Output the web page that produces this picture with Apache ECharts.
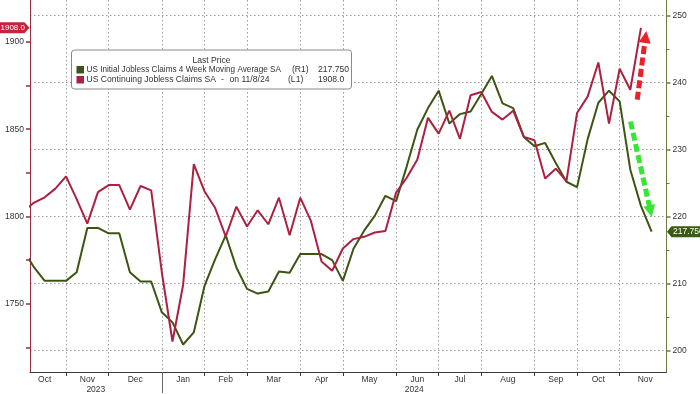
<!DOCTYPE html>
<html><head><meta charset="utf-8">
<script src="https://cdn.jsdelivr.net/npm/echarts@6/dist/echarts.min.js"></script>
<style>html,body{margin:0;padding:0;background:#fff}#c{width:700px;height:394px}</style>
</head><body><div id="c"></div>
<script>
// Weekly observation dates (Fridays)
const weeks = ['2023-09-29','2023-10-06','2023-10-13','2023-10-20','2023-10-27','2023-11-03','2023-11-10','2023-11-17','2023-11-24',
'2023-12-01','2023-12-08','2023-12-15','2023-12-22','2023-12-29','2024-01-05','2024-01-12','2024-01-19','2024-01-26',
'2024-02-02','2024-02-09','2024-02-16','2024-02-23','2024-03-01','2024-03-08','2024-03-15','2024-03-22','2024-03-29',
'2024-04-05','2024-04-12','2024-04-19','2024-04-26','2024-05-03','2024-05-10','2024-05-17','2024-05-24','2024-05-31',
'2024-06-07','2024-06-14','2024-06-21','2024-06-28','2024-07-05','2024-07-12','2024-07-19','2024-07-26',
'2024-08-02','2024-08-09','2024-08-16','2024-08-23','2024-08-30','2024-09-06','2024-09-13','2024-09-20','2024-09-27',
'2024-10-04','2024-10-11','2024-10-18','2024-10-25','2024-11-01','2024-11-08','2024-11-15'];

// US Initial Jobless Claims 4 Week Moving Average SA (R1), thousands
const initialClaims4wk = [215.0,212.4,210.4,210.4,210.4,211.7,218.3,218.3,217.5,217.5,211.7,210.3,210.3,205.7,204.2,200.9,202.7,209.6,
213.6,217.2,212.4,209.2,208.5,208.8,211.8,211.6,214.4,214.4,214.4,213.5,210.4,215.2,217.9,220.1,223.1,222.3,227.5,233.0,236.2,238.8,
233.9,235.3,235.7,238.3,241.0,236.9,236.2,231.9,230.5,231.0,228.0,225.2,224.4,231.6,237.0,238.8,237.2,227.0,221.6,217.75];

// US Continuing Jobless Claims SA (L1), thousands
const continuingClaims = [1803,1808,1811,1816,1823,1810,1796,1814,1818,1818,1804,1817.5,1815,1768,1728.5,1761,1830,1814.5,
1805,1788.6,1805.7,1794.3,1803.6,1795.6,1810.8,1789.3,1810.8,1797.5,1774.3,1769,1781.7,1787.1,1788.4,1790.9,1791.8,1813.7,1822.2,1832.7,
1856.5,1847.5,1860.6,1844.5,1869.4,1871.3,1859.9,1855.5,1860.6,1845.6,1843.7,1821.8,1827.4,1820.3,1859.3,1868.8,1888.2,1853.2,1884.6,1872.6,1908];

// Axis labels / ticks (x positions are week indexes)
const monthLabels = ['Oct','Nov','Dec','Jan','Feb','Mar','Apr','May','Jun','Jul','Aug','Sep','Oct','Nov'];
const monthLabelPos = [2,6,10.5,15,19,23.5,28,32.5,37,41,45.5,50,54,58.4];
const monthBoundaries = [4,8,13,17,21,26,30,35,39,43,48,52,56];
const yearLabels = ['2023','2024'];
const yearLabelPos = [6.8,36.7];
const yearBoundary = [13];
const leftLabels = [1750,1800,1850,1900];
const leftTicks = [1725,1750,1775,1800,1825,1850,1875,1900];
const rightLabels = [200,210,220,230,240,250];
const rightMinorTicks = [205,215,225,235,245];

const xMin = 0.616, xMax = 60.40;
const leftMin = 1711.04, leftMax = 1923.95;
const rightMin = 196.79, rightMax = 252.34;

const GREEN = '#3b5613', RED = '#ad2140';
const FONT = 'Liberation Sans, Arial, sans-serif';
const dotted = {color:'#9a9a9a', width:1, type:[1.5,2.5]};

const chart = echarts.init(document.getElementById('c'), null, {renderer:'canvas'});

function nearestLabel(v, pos, names){
  let best = 0, bd = 1e9;
  pos.forEach((p,i)=>{const d=Math.abs(p-v); if(d<bd){bd=d;best=i;}});
  return names[best];
}

chart.setOption({
  animation:false,
  grid:{left:30, right:33.5, top:0, bottom:20.7, containLabel:false},
  xAxis:[
    {type:'value', min:xMin, max:xMax, position:'bottom',
     axisLine:{show:true, lineStyle:{color:'#3a3a3a', width:1}},
     axisTick:{show:true, customValues:monthBoundaries, length:4, lineStyle:{color:'#3a3a3a'}},
     axisLabel:{customValues:monthLabelPos, formatter:v=>nearestLabel(v,monthLabelPos,monthLabels),
       color:'#333', fontFamily:FONT, fontSize:8.5, margin:3},
     splitLine:{show:true, lineStyle:dotted}},
    {type:'value', min:xMin, max:xMax, position:'bottom', offset:0,
     axisLine:{show:false},
     axisTick:{show:true, customValues:yearBoundary, length:21, lineStyle:{color:'#666'}},
     axisLabel:{customValues:yearLabelPos, formatter:v=>nearestLabel(v,yearLabelPos,yearLabels),
       color:'#333', fontFamily:FONT, fontSize:8.5, margin:13},
     splitLine:{show:false}}
  ],
  yAxis:[
    {type:'value', position:'left', min:leftMin, max:leftMax,
     axisLine:{show:true, lineStyle:{color:'#9c2b40', width:1}},
     axisTick:{show:true, customValues:leftTicks, length:4, lineStyle:{color:'#9c2b40', width:1.5}},
     axisLabel:{customValues:leftLabels, formatter:v=>String(Math.round(v)), color:'#333', fontFamily:FONT, fontSize:8.5, margin:6},
     splitLine:{show:false}},
    {type:'value', position:'right', min:rightMin, max:rightMax,
     axisLine:{show:true, lineStyle:{color:'#6e7b40', width:1}},
     axisTick:{show:true, customValues:rightLabels, length:4, lineStyle:{color:'#6e7b40', width:1.5}},
     axisLabel:{customValues:rightLabels, formatter:v=>String(Math.round(v)), color:'#333', fontFamily:FONT, fontSize:8.5, margin:6},
     splitLine:{show:true, lineStyle:dotted}},
    {type:'value', position:'right', min:rightMin, max:rightMax,
     axisLine:{show:false},
     axisTick:{show:true, customValues:rightMinorTicks, length:3, lineStyle:{color:'#6e7b40', width:1}},
     axisLabel:{show:false}, splitLine:{show:false}}
  ],
  series:[
    {name:'US Initial Jobless Claims 4 Week Moving Average SA', type:'line', xAxisIndex:0, yAxisIndex:1,
     data:initialClaims4wk.map((v,i)=>[i,v]), symbol:'none', z:3,
     lineStyle:{color:GREEN, width:2}, itemStyle:{color:GREEN},
     markLine:{silent:true, animation:false, symbol:['none','triangle'], symbolSize:[12,12],
       label:{show:false}, lineStyle:{color:'#35e635', width:5, type:[8,3.5]},
       data:[[{coord:[57.02,234.2]},{coord:[58.9,220.8]}]]}},
    {name:'US Continuing Jobless Claims SA', type:'line', xAxisIndex:0, yAxisIndex:0,
     data:continuingClaims.map((v,i)=>[i,v]), symbol:'none', z:4,
     lineStyle:{color:RED, width:2}, itemStyle:{color:RED},
     markLine:{silent:true, animation:false, symbol:['none','triangle'], symbolSize:[12,12],
       label:{show:false}, lineStyle:{color:'#e8212b', width:5, type:[8,3.5]},
       data:[[{coord:[57.65,1866.9]},{coord:[58.43,1902.8]}]]}}
  ]
});

// Legend box and last-value badges (positions derived from the chart's own scales)
const lastRed = continuingClaims[continuingClaims.length-1];
const lastGreen = initialClaims4wk[initialClaims4wk.length-1];
const yR = chart.convertToPixel({yAxisIndex:0}, lastRed);
const yG = chart.convertToPixel({yAxisIndex:1}, lastGreen);
const xL = chart.convertToPixel({xAxisIndex:0}, xMin);
const xRt = chart.convertToPixel({xAxisIndex:0}, xMax);
const tf = {fontFamily:FONT, fontSize:8.2, fill:'#333'};
const tf2 = {fontFamily:FONT, fontSize:8.6, fill:'#333'};
chart.setOption({graphic:[
  {type:'rect', shape:{x:71.5, y:50, width:280, height:39, r:3}, style:{fill:'#fff', stroke:'#8a8a8a', lineWidth:1}, z:100},
  {type:'text', x:211.5, y:61, style:Object.assign({text:'Last Price', align:'center', verticalAlign:'middle'}, tf2), z:101},
  {type:'rect', shape:{x:76.5, y:66, width:7.5, height:7.5}, style:{fill:GREEN}, z:101},
  {type:'text', x:86.5, y:70, style:Object.assign({text:'US Initial Jobless Claims 4 Week Moving Average SA', verticalAlign:'middle'}, tf), z:101},
  {type:'text', x:292, y:70, style:Object.assign({text:'(R1)', verticalAlign:'middle'}, tf2), z:101},
  {type:'text', x:318, y:70, style:Object.assign({text:lastGreen.toFixed(3), verticalAlign:'middle'}, tf2), z:101},
  {type:'rect', shape:{x:76.5, y:76, width:7.5, height:7.5}, style:{fill:RED}, z:101},
  {type:'text', x:86.5, y:80, style:Object.assign({text:'US Continuing Jobless Claims SA', verticalAlign:'middle'}, tf2), z:101},
  {type:'text', x:221, y:80, style:Object.assign({text:'-', verticalAlign:'middle'}, tf2), z:101},
  {type:'text', x:229.5, y:80, style:Object.assign({text:'on 11/8/24', verticalAlign:'middle'}, tf2), z:101},
  {type:'text', x:288, y:80, style:Object.assign({text:'(L1)', verticalAlign:'middle'}, tf2), z:101},
  {type:'text', x:318, y:80, style:Object.assign({text:lastRed.toFixed(1), verticalAlign:'middle'}, tf2), z:101},
  // red badge on left axis
  {type:'polygon', shape:{points:[[0,yR-5.5],[xL-5.5,yR-5.5],[xL-0.5,yR],[xL-5.5,yR+5.5],[0,yR+5.5]]}, style:{fill:'#c4243e'}, z:100},
  {type:'text', x:0.5, y:yR, style:{text:lastRed.toFixed(1), fill:'#fff', fontFamily:FONT, fontSize:8, verticalAlign:'middle'}, z:101},
  // green badge on right axis
  {type:'polygon', shape:{points:[[xRt+0.5,yG],[xRt+5,yG-5.5],[700,yG-5.5],[700,yG+5.5],[xRt+5,yG+5.5]]}, style:{fill:'#3b5a14'}, z:100},
  {type:'text', x:xRt+6.5, y:yG, style:{text:lastGreen.toFixed(3), fill:'#fff', fontFamily:FONT, fontSize:8.5, verticalAlign:'middle'}, z:101}
]});
</script></body></html>
